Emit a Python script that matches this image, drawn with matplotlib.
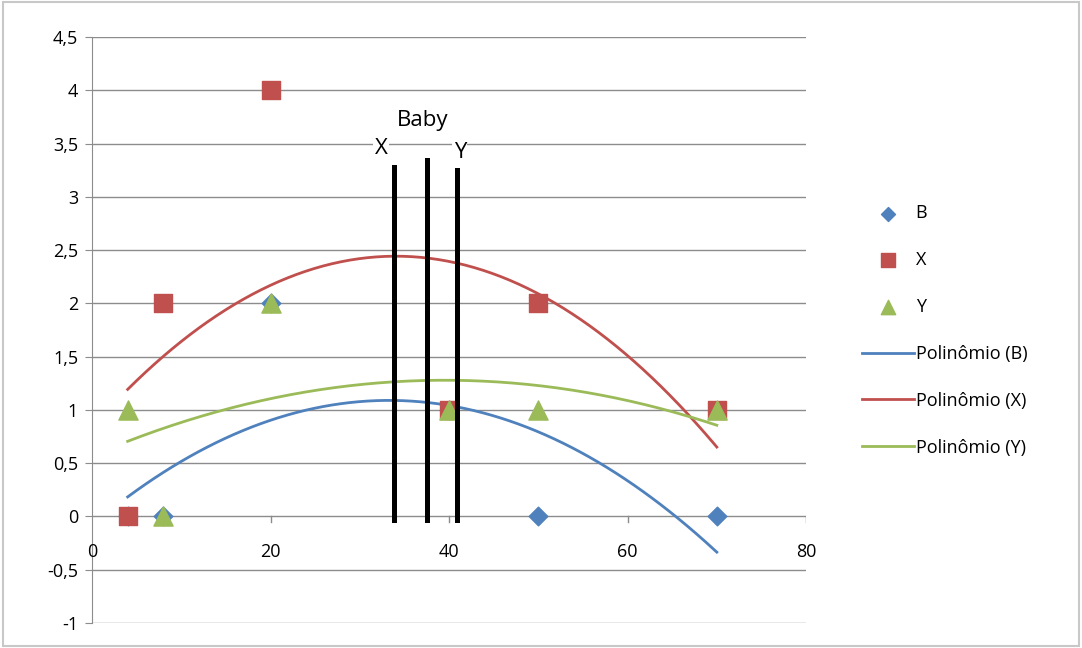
import numpy as np
import matplotlib
matplotlib.use("Agg")
import matplotlib.pyplot as plt

x_vals = [4, 8, 20, 40, 50, 70]
b_vals = [0, 0, 2, 1, 0, 0]
x_series = [0, 2, 4, 1, 2, 1]
y_series = [1, 0, 2, 1, 1, 1]

baby_lines_x = [33.8, 37.5, 40.9]
baby_lines_top = [3.28, 3.35, 3.25]
baby_labels = ["X", "Baby", "Y"]

y_ticks = [-1, -0.5, 0, 0.5, 1, 1.5, 2, 2.5, 3, 3.5, 4, 4.5]
x_ticks = [0, 20, 40, 60, 80]

blue = "#4F81BD"
red = "#C0504D"
green = "#9BBB59"

plt.rcParams['font.family'] = ['Open Sans', 'DejaVu Sans']

fig = plt.figure(figsize=(10.82, 6.48), dpi=100)
ax = fig.add_axes([0.085, 0.0386, 0.66, 0.9043])
ax.set_xlim(0, 80)
ax.set_ylim(-1, 4.5)

for yt in y_ticks:
    ax.axhline(yt, color="#8c8c8c", lw=1, zorder=0)

for s in ["top", "right", "bottom"]:
    ax.spines[s].set_visible(False)
ax.spines["left"].set_color("#8c8c8c")
ax.spines["left"].set_position(("data", 0))

ax.set_yticks(y_ticks)
ax.set_yticklabels([str(v).replace(".", ",") if v != int(v) else str(int(v)) for v in y_ticks])
ax.tick_params(axis="y", length=5, color="#8c8c8c", labelsize=13, pad=5)
ax.set_xticks([])

# x axis at y=0 with ticks crossing
for xt in x_ticks[1:]:
    ax.plot([xt, xt], [-0.05, 0.0], color="#8c8c8c", lw=1, zorder=1)
for xt in x_ticks:
    ax.text(xt, -0.33, str(xt), ha="center", va="center", fontsize=13)

xs = np.linspace(min(x_vals), max(x_vals), 200)
for ys, c, lab in [(b_vals, blue, "Polinômio (B)"), (x_series, red, "Polinômio (X)"), (y_series, green, "Polinômio (Y)")]:
    p = np.polyfit(x_vals, ys, 2)
    ax.plot(xs, np.polyval(p, xs), color=c, lw=2, zorder=2, label=lab)

hB = ax.scatter(x_vals, b_vals, marker="D", s=90, color=blue, zorder=3, label="B")
hX = ax.scatter(x_vals, x_series, marker="s", s=170, color=red, zorder=4, label="X")
hY = ax.scatter(x_vals, y_series, marker="^", s=190, color=green, zorder=5, label="Y")

for bx, bt in zip(baby_lines_x, baby_lines_top):
    ax.plot([bx, bx], [-0.03, bt], color="black", lw=3.6, zorder=6)

ax.text(32.4, 3.45, baby_labels[0], ha="center", va="center", fontsize=16,
        bbox=dict(facecolor="white", edgecolor="none", pad=1))
ax.text(37, 3.72, baby_labels[1], ha="center", va="center", fontsize=16,
        bbox=dict(facecolor="white", edgecolor="none", pad=1))
ax.text(41.2, 3.42, baby_labels[2], ha="center", va="center", fontsize=16,
        bbox=dict(facecolor="white", edgecolor="none", pad=1))

handles, labels = ax.get_legend_handles_labels()
order = [labels.index(l) for l in ["B", "X", "Y", "Polinômio (B)", "Polinômio (X)", "Polinômio (Y)"]]
leg = fig.legend([handles[i] for i in order], [labels[i] for i in order],
                 loc="center left", bbox_to_anchor=(0.782, 0.49), frameon=False,
                 fontsize=13, labelspacing=1.6, handlelength=2.85, handletextpad=0.1,
                 markerscale=0.75)

border = plt.Rectangle((0.003, 0.003), 0.994, 0.994, transform=fig.transFigure,
                       fill=False, edgecolor="#c8c8c8", lw=1.5)
fig.patches.append(border)

fig.savefig("out.png", dpi=100)
